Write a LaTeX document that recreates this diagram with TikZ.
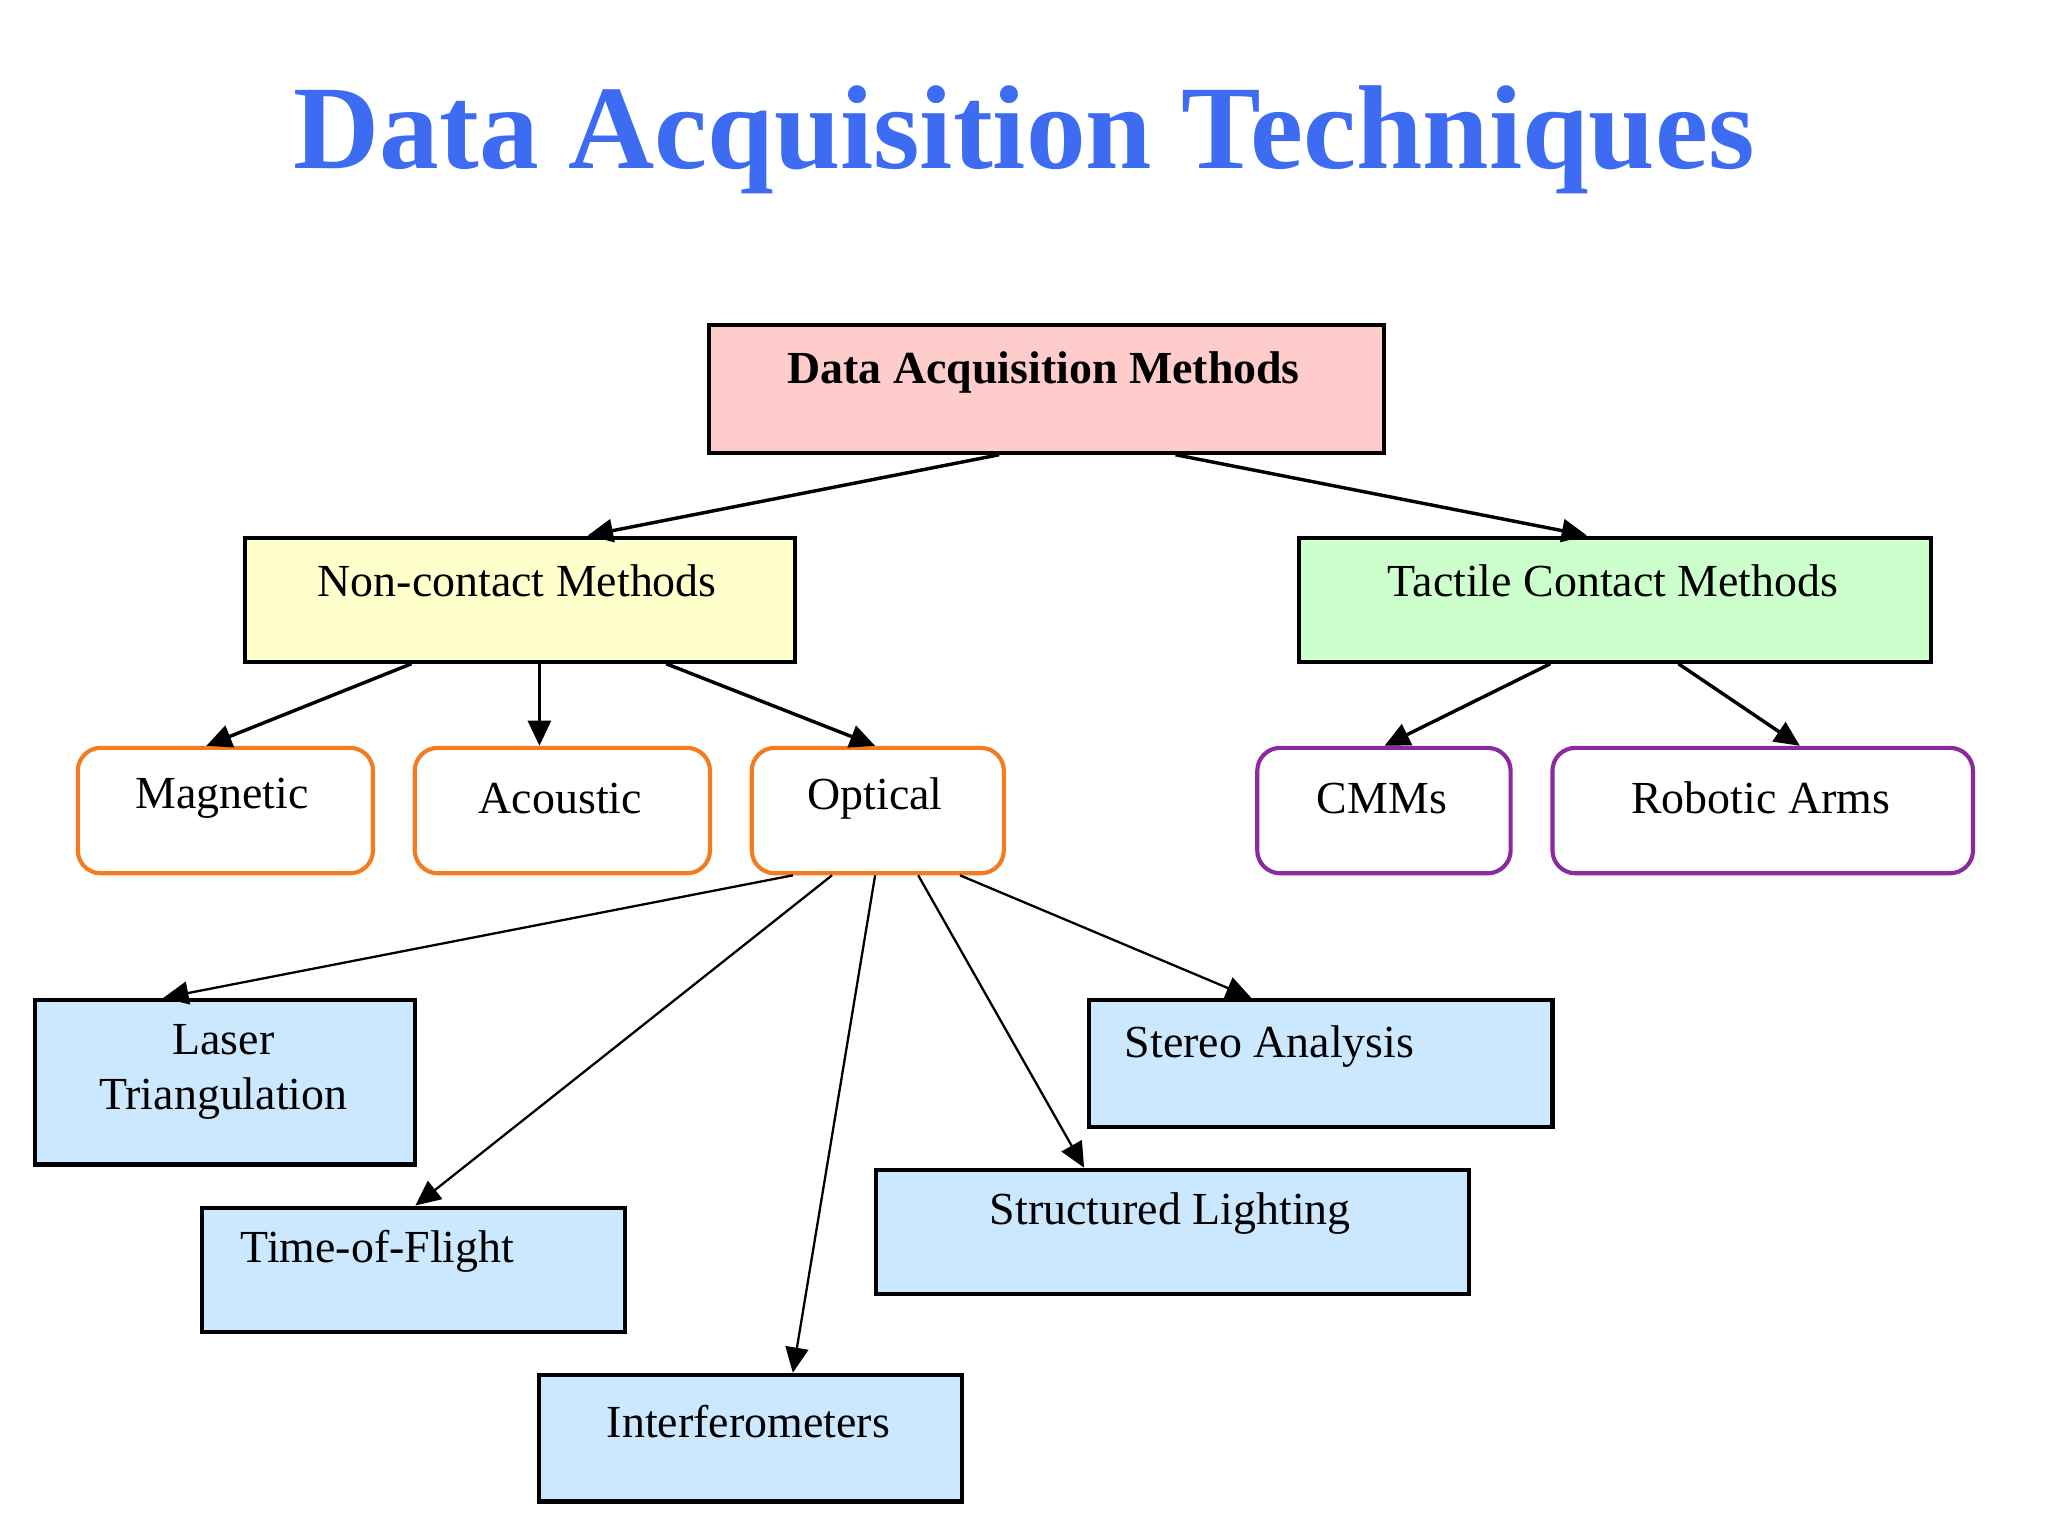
\documentclass[tikz,border=0pt]{standalone}
\usepackage{fontspec}
\setmainfont{Liberation Serif}
\usetikzlibrary{arrows.meta,calc}
\definecolor{titleblue}{HTML}{3D6BF2}
\definecolor{pinkf}{HTML}{FFCCCC}
\definecolor{yellowf}{HTML}{FFFFCC}
\definecolor{greenf}{HTML}{CCFFCC}
\definecolor{bluef}{HTML}{CCE8FF}
\definecolor{orangeb}{HTML}{F47C20}
\definecolor{purpleb}{HTML}{8B2A9E}
\tikzset{
  sq/.style={draw=black, line width=1.8pt, inner sep=0pt},
  rnd/.style={draw, line width=1.8pt, rounded corners=10pt, fill=white, inner sep=0pt},
  lbl/.style={font=\fontsize{20}{24}\selectfont, align=center},
  arr/.style={line width=1.5pt, -{Triangle[length=11pt,width=10pt]}},
  arrt/.style={line width=1pt, -{Triangle[length=11pt,width=10pt]}}
}
\newcommand{\bx}[8]{%
  \pgfmathsetmacro{\bw}{(#4-#2)*0.02}\pgfmathsetmacro{\bh}{(#5-#3)*0.02}%
  \node[#6, anchor=north west, minimum width=\bw cm, minimum height=\bh cm] (#1) at (#2,#3) {};%
  \node[lbl] (#1t) at #7 {#8};}
\begin{document}
\begin{tikzpicture}[x=0.02cm,y=-0.02cm]
\useasboundingbox (0,0) rectangle (1568,1176);
\node[font=\fontsize{52}{56}\selectfont\bfseries, text=titleblue] (title) at (784,107) {Data Acquisition Techniques};
\bx{dam}{541}{247}{1058}{345}{sq,fill=pinkf}{(799,285)}{\bfseries Data Acquisition Methods}
\bx{nc}{186}{410}{607}{505}{sq,fill=yellowf}{(396,445)}{Non-contact Methods}
\bx{tc}{993}{410}{1477}{505}{sq,fill=greenf}{(1235,445)}{Tactile Contact Methods}
\bx{mag}{58}{571}{284}{667}{rnd,draw=orangeb}{(170,611)}{Magnetic}
\bx{aco}{316}{571}{542}{667}{rnd,draw=orangeb}{(429,611)}{Acoustic}
\bx{opt}{574}{571}{767}{667}{rnd,draw=orangeb}{(670,611)}{Optical}
\bx{cmm}{961}{571}{1155}{667}{rnd,draw=purpleb}{(1058,611)}{CMMs}
\bx{rob}{1187}{571}{1509}{667}{rnd,draw=purpleb}{(1348,611)}{Robotic Arms}
\bx{las}{25}{764}{316}{890}{sq,fill=bluef}{(171,821)}{Laser\\Triangulation}
\bx{tof}{153}{923}{477}{1018}{sq,fill=bluef}{(289,958)}{Time-of-Flight}
\bx{int}{411}{1051}{735}{1148}{sq,fill=bluef}{(573,1088)}{Interferometers}
\bx{str}{669}{894}{1123}{989}{sq,fill=bluef}{(896,929)}{Structured Lighting}
\bx{ste}{832}{764}{1187}{861}{sq,fill=bluef}{(972,801)}{Stereo Analysis}
% connectors
\draw[arr] (765,0 |- dam.south) -- (450,0 |- nc.north);
\draw[arr] (900,0 |- dam.south) -- (1215,0 |- tc.north);
\draw[arr] (315,0 |- nc.south) -- (158,0 |- mag.north);
\draw[arr] (413,0 |- nc.south) -- (413,0 |- aco.north);
\draw[arr] (510,0 |- nc.south) -- (670,0 |- opt.north);
\draw[arr] (1187,0 |- tc.south) -- (1060,0 |- cmm.north);
\draw[arr] (1285,0 |- tc.south) -- (1378,0 |- rob.north);
\draw[arrt] (607,0 |- opt.south) -- (125,0 |- las.north);
\draw[arrt] (637,0 |- opt.south) -- (318,0 |- tof.north);
\draw[arrt] (670,0 |- opt.south) -- (607,0 |- int.north);
\draw[arrt] (703,0 |- opt.south) -- (830,0 |- str.north);
\draw[arrt] (735,0 |- opt.south) -- (958,0 |- ste.north);
\end{tikzpicture}
\end{document}
